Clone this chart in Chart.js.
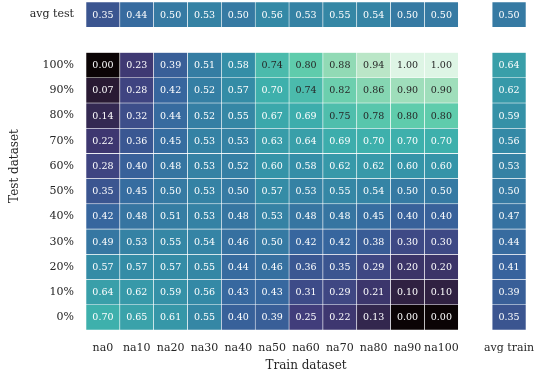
<!DOCTYPE html>
<html>
<head>
<meta charset="utf-8">
<title>Train vs test heatmap</title>
<script src="https://cdn.jsdelivr.net/npm/chart.js"></script>
<style>
  html, body { margin: 0; padding: 0; background: #fff; }
  #wrap { width: 535px; height: 378px; }
</style>
</head>
<body>
<div id="wrap"><canvas id="heat"></canvas></div>
<script>
// columns = train dataset, rows = test dataset (top to bottom)
const trainLabels = ['na0', 'na10', 'na20', 'na30', 'na40', 'na50', 'na60', 'na70', 'na80', 'na90', 'na100'];
const testLabels = ['100%', '90%', '80%', '70%', '60%', '50%', '40%', '30%', '20%', '10%', '0%'];

const test100 = [0.00, 0.23, 0.39, 0.51, 0.58, 0.74, 0.80, 0.88, 0.94, 1.00, 1.00];
const test90  = [0.07, 0.28, 0.42, 0.52, 0.57, 0.70, 0.74, 0.82, 0.86, 0.90, 0.90];
const test80  = [0.14, 0.32, 0.44, 0.52, 0.55, 0.67, 0.69, 0.75, 0.78, 0.80, 0.80];
const test70  = [0.22, 0.36, 0.45, 0.53, 0.53, 0.63, 0.64, 0.69, 0.70, 0.70, 0.70];
const test60  = [0.28, 0.40, 0.48, 0.53, 0.52, 0.60, 0.58, 0.62, 0.62, 0.60, 0.60];
const test50  = [0.35, 0.45, 0.50, 0.53, 0.50, 0.57, 0.53, 0.55, 0.54, 0.50, 0.50];
const test40  = [0.42, 0.48, 0.51, 0.53, 0.48, 0.53, 0.48, 0.48, 0.45, 0.40, 0.40];
const test30  = [0.49, 0.53, 0.55, 0.54, 0.46, 0.50, 0.42, 0.42, 0.38, 0.30, 0.30];
const test20  = [0.57, 0.57, 0.57, 0.55, 0.44, 0.46, 0.36, 0.35, 0.29, 0.20, 0.20];
const test10  = [0.64, 0.62, 0.59, 0.56, 0.43, 0.43, 0.31, 0.29, 0.21, 0.10, 0.10];
const test0   = [0.70, 0.65, 0.61, 0.55, 0.40, 0.39, 0.25, 0.22, 0.13, 0.00, 0.00];
const testRows = [test100, test90, test80, test70, test60, test50, test40, test30, test20, test10, test0];

const avgTest  = [0.35, 0.44, 0.50, 0.53, 0.50, 0.56, 0.53, 0.55, 0.54, 0.50, 0.50];
const avgTrain = [0.64, 0.62, 0.59, 0.56, 0.53, 0.50, 0.47, 0.44, 0.41, 0.39, 0.35];
const avgAll = 0.50;

// mako colormap, sampled
const makoStops = [
  [0.000, [11, 4, 5]],
  [0.083, [46, 30, 60]],
  [0.250, [65, 61, 123]],
  [0.417, [55, 101, 158]],
  [0.583, [52, 143, 167]],
  [0.700, [62, 176, 172]],
  [0.800, [95, 204, 172]],
  [0.875, [142, 217, 180]],
  [0.940, [186, 230, 199]],
  [1.000, [222, 245, 229]]
];
function mako(v) {
  for (let i = 1; i < makoStops.length; i++) {
    const [p1, c1] = makoStops[i];
    const [p0, c0] = makoStops[i - 1];
    if (v <= p1) {
      const t = (v - p0) / (p1 - p0);
      const c = c0.map((a, k) => Math.round(a + (c1[k] - a) * t));
      return `rgb(${c[0]},${c[1]},${c[2]})`;
    }
  }
  return 'rgb(222,245,229)';
}

const xLabels = [...trainLabels, '', 'avg train'];
// y positions bottom (0) to top (12)
const yLabels = [...testLabels].reverse().concat(['', 'avg test']);

// build one floating-bar dataset per heatmap row
const datasets = [];
testRows.forEach((row, i) => {
  const y = testLabels.length - 1 - i;
  datasets.push({ y, cells: [...row, null, avgTrain[i]] });
});
datasets.push({ y: 12, cells: [...avgTest, null, avgAll] });

const chartData = {
  labels: xLabels,
  datasets: datasets.map(d => ({
    data: d.cells.map(v => v == null ? null : [d.y - 0.5, d.y + 0.5]),
    cellValues: d.cells,
    backgroundColor: d.cells.map(v => v == null ? 'rgba(0,0,0,0)' : mako(v)),
    borderColor: '#ffffff',
    borderWidth: 0.6,
    borderSkipped: false,
    barPercentage: 1,
    categoryPercentage: 1,
    grouped: false
  }))
};

const cellText = {
  id: 'cellText',
  afterDatasetsDraw(chart) {
    const ctx = chart.ctx;
    ctx.save();
    ctx.font = '9.5px "DejaVu Serif"';
    ctx.textAlign = 'center';
    ctx.textBaseline = 'middle';
    chart.data.datasets.forEach((ds, i) => {
      chart.getDatasetMeta(i).data.forEach((bar, j) => {
        const v = ds.cellValues[j];
        if (v == null) return;
        const p = bar.getProps(['x', 'y', 'base'], true);
        ctx.fillStyle = v > 0.715 ? '#262626' : '#ffffff';
        ctx.fillText(v.toFixed(2), p.x, (p.y + p.base) / 2 + 0.5);
      });
    });
    ctx.restore();
  }
};

const tickFont = { family: 'DejaVu Serif', size: 11 };
const titleFont = { family: 'DejaVu Serif', size: 12 };

new Chart(document.getElementById('heat'), {
  type: 'bar',
  data: chartData,
  options: {
    responsive: true,
    maintainAspectRatio: false,
    animation: false,
    layout: { padding: { top: 2, right: 9, left: 0, bottom: 0 } },
    plugins: { legend: { display: false }, tooltip: { enabled: false } },
    scales: {
      x: {
        grid: { display: false, drawTicks: false },
        border: { display: false },
        ticks: { color: '#262626', font: tickFont, padding: 12, maxRotation: 0, autoSkip: false },
        title: { display: true, text: 'Train dataset', color: '#262626', font: titleFont, padding: { top: 0, bottom: 5 } },
        afterFit(scale) {
          scale.height = 48;
          scale.paddingLeft = 0;
          scale.paddingRight = 0;
        }
      },
      y: {
        type: 'linear',
        min: -0.5,
        max: 12.5,
        grid: { display: false, drawTicks: false },
        border: { display: false },
        afterBuildTicks(scale) {
          scale.ticks = yLabels.map((l, i) => ({ value: i })).filter(t => yLabels[t.value] !== '');
        },
        ticks: {
          color: '#262626', font: tickFont, padding: 12, autoSkip: false,
          callback: v => yLabels[v]
        },
        title: { display: true, text: 'Test dataset', color: '#262626', font: titleFont, padding: { top: 8, bottom: 0 } },
        afterFit(scale) {
          scale.width = 86;
          scale.paddingTop = 0;
          scale.paddingBottom = 0;
        }
      }
    }
  },
  plugins: [cellText]
});
</script>
</body>
</html>
